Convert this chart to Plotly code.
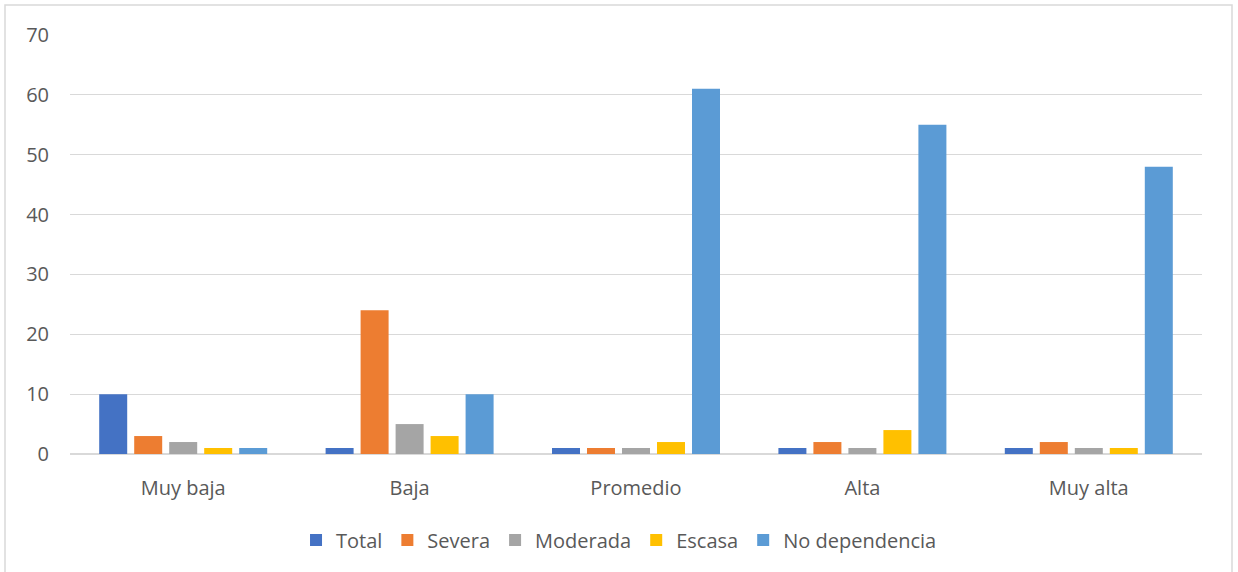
import plotly.graph_objects as go

categories = ["Muy baja", "Baja", "Promedio", "Alta", "Muy alta"]
total = [10, 1, 1, 1, 1]
severa = [3, 24, 1, 2, 2]
moderada = [2, 5, 1, 1, 1]
escasa = [1, 3, 2, 4, 1]
no_dependencia = [1, 10, 61, 55, 48]

series = [
    ("Total", total, "#4472C4"),
    ("Severa", severa, "#ED7D31"),
    ("Moderada", moderada, "#A5A5A5"),
    ("Escasa", escasa, "#FFC000"),
    ("No dependencia", no_dependencia, "#5B9BD5"),
]

fig = go.Figure()
for name, vals, color in series:
    fig.add_trace(go.Bar(x=categories, y=vals, name=name, marker_color=color,
                         marker_line_width=0))

W, H = 1238, 572
l, r, t, b = 70, 36, 35, 118
pw, ph = W - l - r, H - t - b

fs = 20
fig.update_layout(
    width=W, height=H,
    margin=dict(l=l, r=r, t=t, b=b),
    paper_bgcolor="white", plot_bgcolor="white",
    barmode="group", bargap=0.227, bargroupgap=0.2,
    font=dict(family="Open Sans", size=fs, color="#595959"),
    legend=dict(orientation="h", x=0.485, xanchor="center", y=(454 - 540) / ph,
                yanchor="middle", font=dict(size=fs, color="#595959"),
                itemwidth=30, traceorder="normal"),
    xaxis=dict(showgrid=False, showline=True, linecolor="#D9D9D9", linewidth=1,
               ticks="", ticklabelstandoff=16, tickfont=dict(size=fs, color="#595959")),
    yaxis=dict(range=[0, 70], dtick=10, showgrid=True, gridcolor="#D9D9D9",
               gridwidth=1, zeroline=True, zerolinecolor="#D9D9D9",
               ticks="", ticklabelstandoff=20, tickfont=dict(size=fs, color="#595959")),
    shapes=[dict(type="rect", xref="paper", yref="paper",
                 x0=(5 - l) / pw, x1=(1232 - l) / pw,
                 y0=(454 - 580) / ph, y1=(454 - 5) / ph,
                 line=dict(color="#D9D9D9", width=1.5), fillcolor="rgba(0,0,0,0)",
                 layer="below")],
)

fig.write_html("out.html")
